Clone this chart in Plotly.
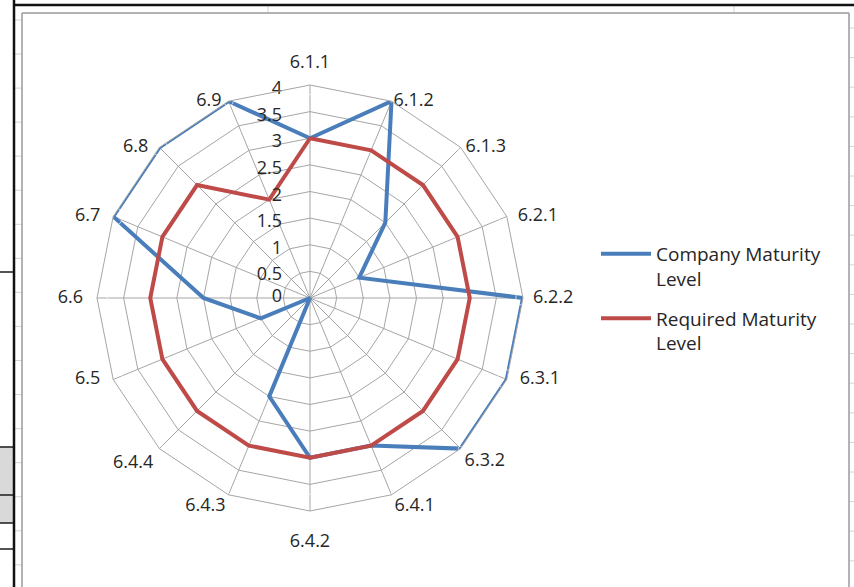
import plotly.graph_objects as go

# Maturity assessment per clause
categories = ["6.1.1", "6.1.2", "6.1.3", "6.2.1", "6.2.2", "6.3.1", "6.3.2", "6.4.1",
              "6.4.2", "6.4.3", "6.4.4", "6.5", "6.6", "6.7", "6.8", "6.9"]
company_level = [3, 4, 2, 1, 4, 4, 4, 3, 3, 2, 0, 1, 2, 4, 4, 4]
required_level = [3, 3, 3, 3, 3, 3, 3, 3, 3, 3, 3, 3, 3, 3, 3, 2]
radial_ticks = [0, 0.5, 1, 1.5, 2, 2.5, 3, 3.5, 4]
r_max = 4

W, H = 854, 587
BLUE = "#4A7EBB"
RED = "#BE4B48"
GRID = "#A6A6A6"
FONT = "Open Sans"
TXT = "#262626"
FS = 18

# where each category label sits around its outer vertex, and its clearance (px)
label_side = ["top center", "middle right", "middle right", "middle right",
              "middle right", "middle right", "bottom right", "bottom right",
              "bottom center", "bottom left", "bottom left", "middle left",
              "middle left", "middle left", "middle left", "middle left"]
label_gap = [13, 2, 5, 11, 10, 13, 4, 3, 22, 3, 6, 13, 14, 13, 11, 7]

# polar area in pixels: centre (310, 298), outer radius 213
cx, cy, R = 310, 298, 213
px_per_unit = R / r_max


def closed(seq):
    return list(seq) + [seq[0]]


def gap_to_marker(g):
    # plotly offsets point text by size/2/0.8 + 1 px
    return max(0.0, (g - 1) * 1.6)


fig = go.Figure()
fig.add_trace(go.Scatterpolar(
    r=closed(company_level), theta=closed(categories), mode="lines",
    name="Company Maturity<br>Level", legendgroup="company",
    line=dict(color=BLUE, width=4)))
fig.add_trace(go.Scatterpolar(
    r=closed(required_level), theta=closed(categories), mode="lines",
    name="Required Maturity<br>Level", legendgroup="required",
    line=dict(color=RED, width=4)))

# category labels around the outer ring
fig.add_trace(go.Scatterpolar(
    r=[r_max] * len(categories), theta=categories, mode="markers+text",
    text=categories, textposition=label_side,
    textfont=dict(family=FONT, size=FS, color=TXT),
    marker=dict(size=[gap_to_marker(g) for g in label_gap],
                color="rgba(0,0,0,0)"),
    showlegend=False, hoverinfo="skip", cliponaxis=False))

# radial scale values, right-aligned left of the top spoke,
# anchored a few pixels down the spoke so each sits just under its ring
drop = 4.5 / px_per_unit
pad = "\u00a0" * 6
fig.add_trace(go.Scatterpolar(
    r=[max(v - drop, 1e-4) for v in radial_ticks],
    theta=[categories[0]] * len(radial_ticks),
    mode="text", text=[f"{v:g}{pad}" for v in radial_ticks],
    textposition="middle left",
    textfont=dict(family=FONT, size=FS, color=TXT),
    showlegend=False, hoverinfo="skip", cliponaxis=False))

fig.update_layout(
    width=W, height=H,
    margin=dict(l=0, r=0, t=0, b=0),
    paper_bgcolor="white",
    font=dict(family=FONT, size=FS, color=TXT),
    polar=dict(
        domain=dict(x=[(cx - R) / W, (cx + R) / W],
                    y=[(H - cy - R) / H, (H - cy + R) / H]),
        bgcolor="white",
        gridshape="linear",
        angularaxis=dict(
            type="category", categoryarray=categories,
            direction="clockwise", rotation=90,
            showline=True, linecolor=GRID, linewidth=1,
            showgrid=True, gridcolor=GRID, gridwidth=1,
            ticks="", showticklabels=False,
        ),
        radialaxis=dict(
            range=[0, r_max], tickvals=radial_ticks,
            showline=False, ticks="", showticklabels=False,
            showgrid=True, gridcolor=GRID, gridwidth=1,
        ),
    ),
    legend=dict(x=596 / W, y=1 - 235 / H, xanchor="left", yanchor="top",
                font=dict(family=FONT, size=19, color=TXT),
                valign="top", tracegroupgap=12, itemwidth=50,
                bgcolor="rgba(0,0,0,0)"),
    showlegend=True,
)

# worksheet surroundings: cell grid, frame and chart border
shapes = []


def px_line(x0, y0, x1, y1, color, width):
    shapes.append(dict(type="line", xref="paper", yref="paper",
                       x0=x0 / W, x1=x1 / W, y0=1 - y0 / H, y1=1 - y1 / H,
                       line=dict(color=color, width=width)))


def px_rect(x0, y0, x1, y1, fill):
    shapes.append(dict(type="rect", xref="paper", yref="paper",
                       x0=x0 / W, x1=x1 / W, y0=1 - y1 / H, y1=1 - y0 / H,
                       fillcolor=fill, line=dict(width=0), layer="below"))


# shaded worksheet cells on the left
px_rect(0, 447, 13, 495, "#D9D9D9")
px_rect(0, 495, 13, 523, "#D9D9D9")
for yy in (272, 447, 495, 523, 549):
    px_line(0, yy, 14, yy, "#1A1A1A", 1.5)

# faint row gridlines peeking between frame and chart border
y = 20.0
while y < H:
    px_line(15, y, 22, y, "#D4D4D4", 1)
    y += 34.05
y = 28.0
while y < H:
    px_line(849, y, 854, y, "#D4D4D4", 1)
    y += 29.6
for xx in (268, 734):
    px_line(xx, 6, xx, 13, "#D4D4D4", 1)

# chart area border
px_line(22, 13, 849, 13, "#9A9A9A", 1.5)
px_line(22, 13, 22, H, "#9A9A9A", 1.5)
px_line(849, 13, 849, H, "#9A9A9A", 1.5)

# dark frame
px_line(14, 5, W, 5, "#111111", 2.5)
px_line(14, 0, 14, H, "#111111", 2.5)

fig.update_layout(shapes=shapes)
fig.write_html("out.html")
